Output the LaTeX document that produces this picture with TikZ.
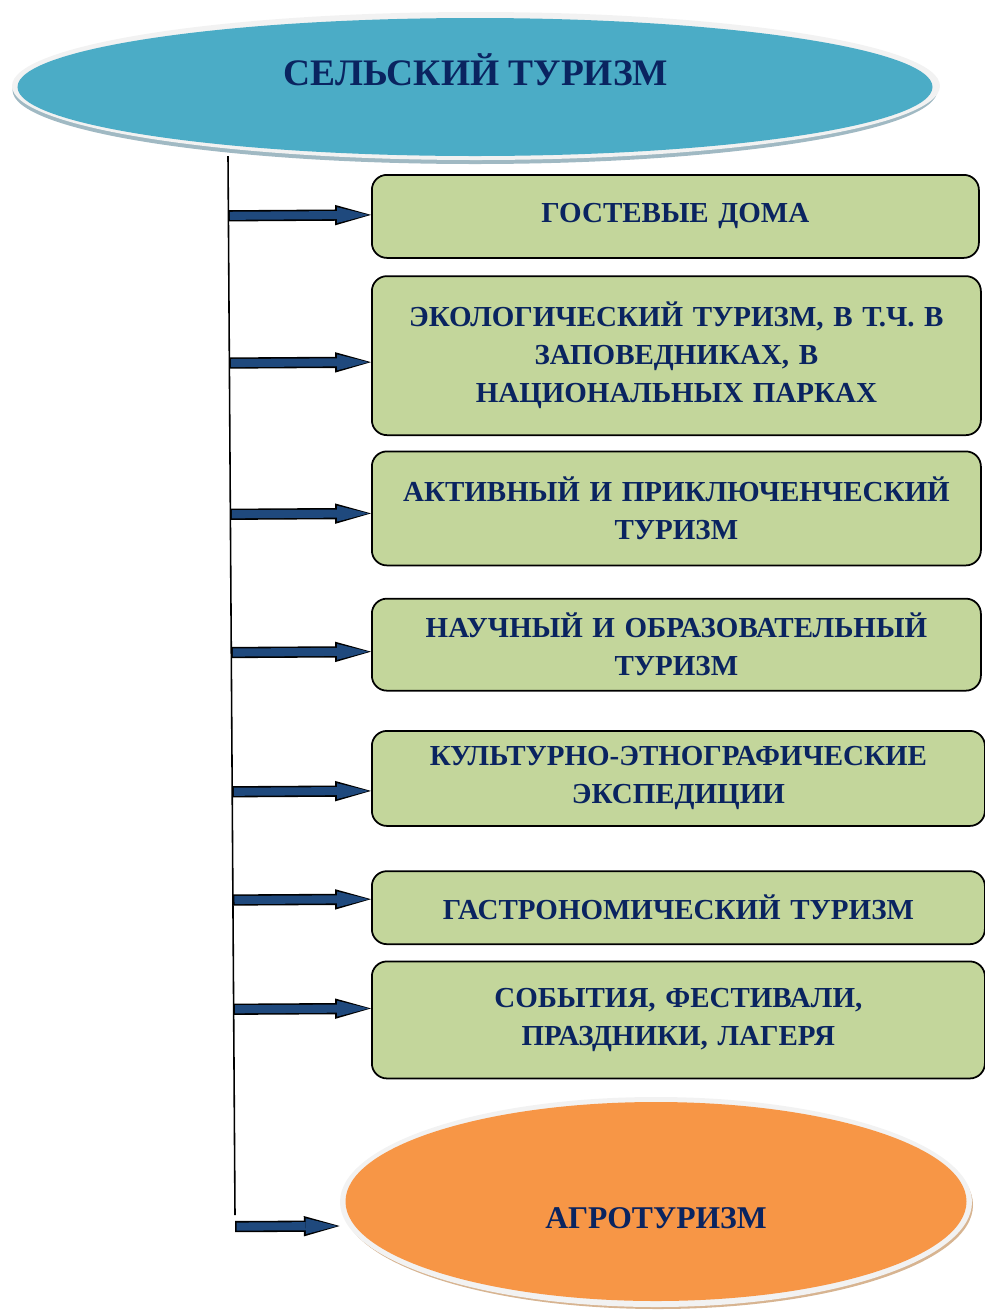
\documentclass[tikz,border=0pt]{standalone}
\usepackage{fontspec}
\setmainfont{Liberation Serif}
\usepackage{tikz}
\usetikzlibrary{shapes.geometric, arrows.meta, positioning, calc}
\definecolor{navytext}{RGB}{10,36,96}
\definecolor{aquafill}{RGB}{75,172,198}
\definecolor{orangefill}{RGB}{247,150,70}
\definecolor{olivefill}{RGB}{195,214,155}
\definecolor{arrowblue}{RGB}{31,73,125}
\definecolor{rimgray}{RGB}{242,242,242}
\definecolor{aquashadow}{RGB}{160,185,195}
\definecolor{orangeshadow}{RGB}{215,180,145}
\tikzstyle{rim} = [ellipse, fill=rimgray, inner sep=0pt]
\tikzstyle{ellfill} = [ellipse, inner sep=0pt]
\tikzstyle{elltext} = [text=navytext, inner sep=0pt]
\tikzstyle{typebox} = [rectangle, rounded corners=0.3cm, draw=black, line width=1pt, fill=olivefill, text=navytext, font=\bfseries\fontsize{16.5}{21.6}\selectfont, align=center, text width=11.95cm, inner sep=0.08cm, anchor=north west]
\tikzstyle{arrow} = [draw=arrowblue, line width=4.6pt, -{Triangle[length=18pt, width=9pt, line width=0pt]}, shorten >=1.3pt, shorten <=0.9pt, preaction={draw=black, line width=6.4pt, -{Triangle[length=20.4pt, width=11.6pt, line width=0pt]}, shorten >=0pt, shorten <=0pt}]
\tikzstyle{spine} = [draw=black, line width=0.9pt]

\begin{document}
\begin{tikzpicture}
        \useasboundingbox (0,0) rectangle (19.7,-26.26);

        \node (selskiyshadow) [ellfill, fill=aquashadow, minimum width=18.5cm, minimum height=2.96cm] at (9.5,-1.8) {};
        \node (selskiy) [rim, minimum width=18.56cm, minimum height=2.96cm] at (9.52,-1.72) {};
        \node (selskiyfill) [ellfill, fill=aquafill, minimum width=18.3cm, minimum height=2.76cm] at (9.5,-1.74) {};
        \node (selskiytext) [elltext, font=\bfseries\fontsize{21.3}{25}\selectfont] at ([yshift=0.32cm]selskiy.center) {СЕЛЬСКИЙ ТУРИЗМ};

        \node (gost) [typebox, minimum width=12.14cm, minimum height=1.66cm] at (7.42,-3.48) {ГОСТЕВЫЕ ДОМА};
        \node (eco) [typebox, minimum width=12.18cm, minimum height=3.18cm, below=0.33cm of gost.south west, anchor=north west] {ЭКОЛОГИЧЕСКИЙ ТУРИЗМ, В Т.Ч. В\\ЗАПОВЕДНИКАХ, В\\НАЦИОНАЛЬНЫХ ПАРКАХ};
        \node (active) [typebox, minimum width=12.18cm, minimum height=2.28cm, below=0.29cm of eco.south west, anchor=north west] {АКТИВНЫЙ И ПРИКЛЮЧЕНЧЕСКИЙ\\ТУРИЗМ};
        \node (nauch) [typebox, minimum width=12.18cm, minimum height=1.84cm, below=0.63cm of active.south west, anchor=north west] {НАУЧНЫЙ И ОБРАЗОВАТЕЛЬНЫЙ\\ТУРИЗМ};
        \node (kult) [typebox, minimum width=12.26cm, minimum height=1.9cm, below=0.77cm of nauch.south west, anchor=north west] {КУЛЬТУРНО-ЭТНОГРАФИЧЕСКИЕ\\ЭКСПЕДИЦИИ};
        \node (gastro) [typebox, minimum width=12.26cm, minimum height=1.46cm, below=0.87cm of kult.south west, anchor=north west] {ГАСТРОНОМИЧЕСКИЙ ТУРИЗМ};
        \node (sobyt) [typebox, minimum width=12.26cm, minimum height=2.34cm, below=0.31cm of gastro.south west, anchor=north west] {СОБЫТИЯ, ФЕСТИВАЛИ,\\ПРАЗДНИКИ, ЛАГЕРЯ};

        \node (agroshadow) [ellfill, fill=orangeshadow, minimum width=12.6cm, minimum height=4.16cm] at (13.16,-24.1) {};
        \node (agro) [rim, minimum width=12.64cm, minimum height=4.2cm] at (13.12,-24.04) {};
        \node (agrofill) [ellfill, fill=orangefill, minimum width=12.42cm, minimum height=3.98cm] at (13.12,-24.03) {};
        \node (agrotext) [elltext, font=\bfseries\fontsize{18}{22}\selectfont] at ([yshift=-0.32cm]agro.center) {АГРОТУРИЗМ};

        \coordinate (spineT) at (4.56,-3.12);
        \coordinate (spineB) at (4.70,-24.30);
        \draw [spine] (spineT) -- (spineB);

        \draw [arrow] ($(spineT)!([yshift=0.03cm]gost.west)!(spineB)$) -- ([yshift=0.03cm]gost.west);
        \draw [arrow] ($(spineT)!([yshift=-0.13cm]eco.west)!(spineB)$) -- ([yshift=-0.13cm]eco.west);
        \draw [arrow] ($(spineT)!([yshift=-0.10cm]active.west)!(spineB)$) -- ([yshift=-0.10cm]active.west);
        \draw [arrow] ($(spineT)!([yshift=-0.14cm]nauch.west)!(spineB)$) -- ([yshift=-0.14cm]nauch.west);
        \draw [arrow] ($(spineT)!([yshift=-0.25cm]kult.west)!(spineB)$) -- ([yshift=-0.25cm]kult.west);
        \draw [arrow] ($(spineT)!([yshift=0.17cm]gastro.west)!(spineB)$) -- ([yshift=0.17cm]gastro.west);
        \draw [arrow] ($(spineT)!([yshift=0.23cm]sobyt.west)!(spineB)$) -- ([yshift=0.23cm]sobyt.west);
        \draw [arrow] ($(spineT)!([yshift=-0.48cm]agro.west)!(spineB)$) -- ([yshift=-0.48cm]agro.west);

    \end{tikzpicture}
\end{document}
